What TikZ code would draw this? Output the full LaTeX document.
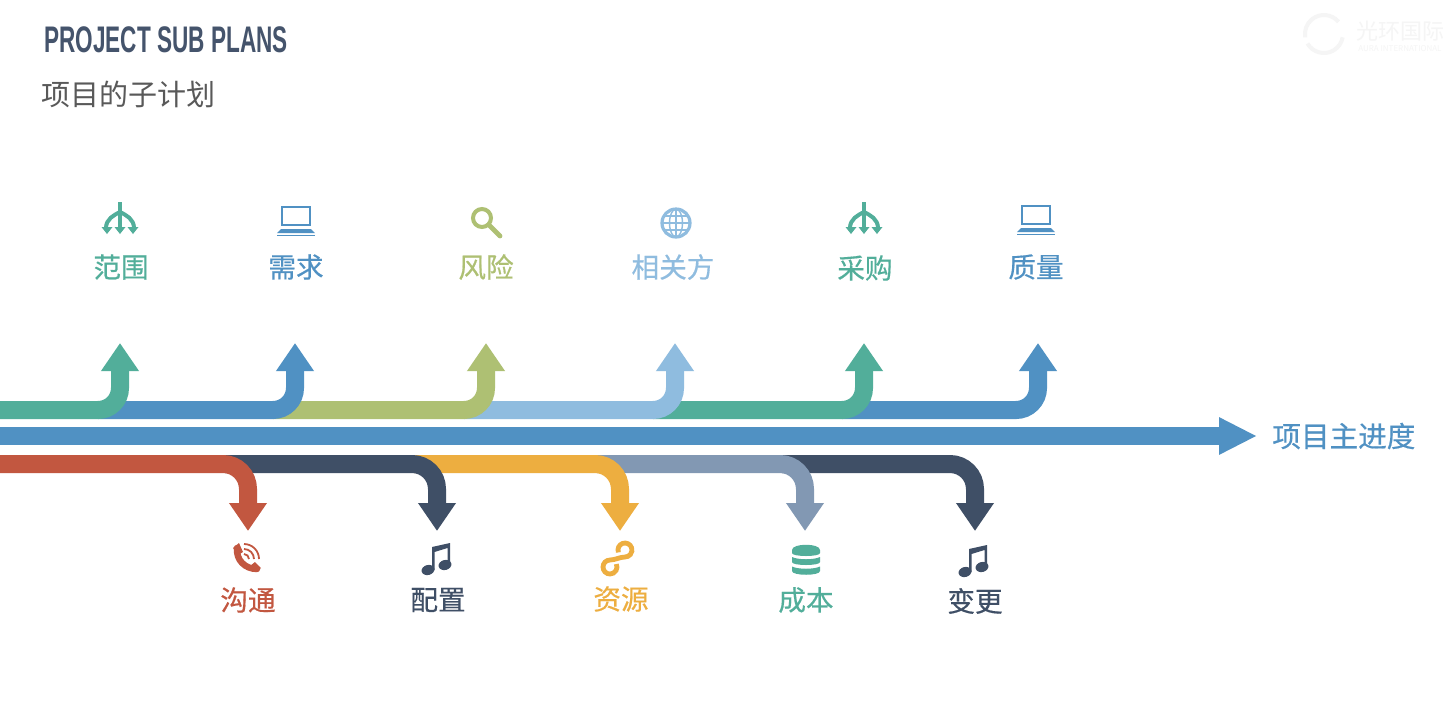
\documentclass[tikz,border=0pt]{standalone}
\usepackage{fontspec}
\usetikzlibrary{arrows.meta}
\setmainfont{Noto Sans CJK SC}
\newfontfamily\titlefont[FakeStretch=0.61]{Liberation Sans}
\newfontfamily\labelfont[FakeBold=0.5]{Noto Sans CJK SC}
\definecolor{cteal}{HTML}{52AE9A}
\definecolor{cblue}{HTML}{5091C3}
\definecolor{colive}{HTML}{AEC073}
\definecolor{csky}{HTML}{8FBCDF}
\definecolor{cred}{HTML}{C25740}
\definecolor{cnavy}{HTML}{3F4F66}
\definecolor{camber}{HTML}{EDAE40}
\definecolor{csteel}{HTML}{8298B3}
\definecolor{ctitle}{HTML}{45546C}
\definecolor{cmark}{HTML}{F5F5F5}
\tikzset{
    every node/.style={inner sep=0pt},
    band/.style={line width=9pt, rounded corners=11pt, -{Triangle[length=14pt, width=18pt]}},
    lowband/.style={band, rounded corners=12.5pt},
    mainband/.style={line width=9pt, -{Triangle[length=19pt, width=17.4pt]}},
    plabel/.style={font=\labelfont\fontsize{13.8pt}{14pt}\selectfont},
    forkicon/.pic={
        \draw[line width=2pt] (0,-18) -- (0,8);
        \draw[line width=2pt] (0,-8) .. controls (-6,-5) and (-14,-1) .. (-14,8);
        \draw[line width=2pt] (0,-8) .. controls (6,-5) and (14,-1) .. (14,8);
        \fill (-5.5,7) -- (0,14) -- (5.5,7) -- cycle;
        \fill (-18.5,7) -- (-13,14) -- (-7.5,7) -- cycle;
        \fill (7.5,7) -- (13,14) -- (18.5,7) -- cycle;
    },
    laptopicon/.pic={
        \draw[line width=1.4pt] (-14,-13) rectangle (14,5);
        \fill (-15,9) -- (15,9) -- (19,13) -- (-19,13) -- cycle;
        \fill (-19,14.5) rectangle (19,16);
    },
    lensicon/.pic={
        \draw[line width=2pt] (-2,-3) circle[radius=9];
        \draw[line width=2.4pt, line cap=round] (5,4) -- (16,15);
    },
    globeicon/.pic={
        \draw[line width=1.6pt] (0,0) circle[radius=14];
        \draw[line width=.7pt] (0,0) ellipse[x radius=6.5, y radius=14];
        \draw[line width=.7pt] (0,-14) -- (0,14) (-14,0) -- (14,0) (-12,-7) -- (12,-7) (-12,7) -- (12,7);
    },
    phoneicon/.pic={
        \draw[line width=3.2pt, line cap=round] (-10,-10) .. controls (-11,2) and (-2,11) .. (10,11);
        \fill (-14,-10) -- (-8,-15) -- (-4,-6) -- (-9,-3) -- cycle;
        \fill (3,8) -- (8,4) -- (14,10) -- (9,14) -- cycle;
        \draw[line width=.9pt] (-3,-4) arc[start angle=-90, end angle=0, radius=5];
        \draw[line width=.9pt] (-3,-9) arc[start angle=-90, end angle=0, radius=10];
        \draw[line width=.9pt] (-3,-14) arc[start angle=-90, end angle=0, radius=15];
    },
    noteicon/.pic={
        \fill[shift={(-9,12)}, rotate=15] (0,0) ellipse[x radius=6.5, y radius=5];
        \fill[shift={(8,7)}, rotate=15] (0,0) ellipse[x radius=6.5, y radius=5];
        \fill (-5,12) -- (-2.5,12) -- (-2.5,-6) -- (10.5,-10) -- (10.5,7) -- (13,7) -- (13,-15) -- (-5,-11) -- cycle;
    },
    linkicon/.pic={
        \draw[line width=2.4pt] (.4,-6.6) arc[start angle=160, end angle=450, radius=7]
            .. controls (2,-2) and (-3,1) .. (-8,1)
            arc[start angle=-90, end angle=-385, radius=7];
    },
    stackicon/.pic={
        \fill (-14,-10) .. controls (-14,-17) and (14,-17) .. (14,-10) -- (14,-7) .. controls (14,-3) and (-14,-3) .. (-14,-7) -- cycle;
        \fill (-14,-3) .. controls (-8,0) and (8,0) .. (14,-3) -- (14,2) .. controls (14,6) and (-14,6) .. (-14,2) -- cycle;
        \fill (-14,6.5) .. controls (-8,9.5) and (8,9.5) .. (14,6.5) -- (14,11) .. controls (14,16) and (-14,16) .. (-14,11) -- cycle;
    }
}
\begin{document}
\begin{tikzpicture}[x=0.5pt, y=-0.5pt]
    \clip (0,0) rectangle (1448,714);
    \fill[white] (0,0) rectangle (1448,714);

    \node[anchor=west, text=ctitle, font=\titlefont\bfseries\fontsize{18.5pt}{19pt}\selectfont] (title) at (44,40) {PROJECT SUB PLANS};
    \node[anchor=west, text=black!65, font=\fontsize{14.5pt}{15pt}\selectfont] (subtitle) at (41,94) {项目的子计划};

    % faint logo, top right
    \draw[cmark, line width=2pt] (1338.5,21.8) arc[start angle=-40, end angle=-190, radius=19];
    \draw[cmark, line width=2pt] (1307.5,43.5) arc[start angle=150, end angle=10, radius=19];
    \node[anchor=west, text=cmark, font=\fontsize{11pt}{12pt}\selectfont] (logotext) at (1356,31) {光环国际};
    \node[anchor=west, text=cmark, font=\fontsize{4pt}{5pt}\selectfont] (logosub) at (1358,49) {AURA INTERNATIONAL};

    % upper tips and starts
    \coordinate (tipA) at (120,343);
    \coordinate (tipB) at (295,343);
    \coordinate (tipC) at (486,343);
    \coordinate (tipD) at (675,343);
    \coordinate (tipE) at (864,343);
    \coordinate (tipF) at (1038,343);
    \coordinate (startA) at (-5,410);
    \coordinate (startB) at (98,410);
    \coordinate (startC) at (273,410);
    \coordinate (startD) at (464,410);
    \coordinate (startE) at (653,410);
    \coordinate (startF) at (842,410);

    \draw[band, cblue] (startF) -| (tipF);
    \draw[band, cteal] (startE) -| (tipE);
    \draw[band, csky] (startD) -| (tipD);
    \draw[band, colive] (startC) -| (tipC);
    \draw[band, cblue] (startB) -| (tipB);
    \draw[band, cteal] (startA) -| (tipA);

    % main schedule
    \node[anchor=west, plabel, text=cblue, font=\labelfont\fontsize{14.3pt}{15pt}\selectfont] (mainlabel) at (1272,436) {项目主进度};
    \coordinate (mainstart) at (-5,436);
    \coordinate (maintip) at (1257,436);
    \draw[mainband, cblue] (mainstart) -- (maintip);

    % lower tips and starts
    \coordinate (tipG) at (248,531);
    \coordinate (tipH) at (437,531);
    \coordinate (tipI) at (620,531);
    \coordinate (tipJ) at (805,531);
    \coordinate (tipK) at (975,531);
    \coordinate (startG) at (-5,464);
    \coordinate (startH) at (225,464);
    \coordinate (startI) at (414,464);
    \coordinate (startJ) at (597,464);
    \coordinate (startK) at (782,464);

    \draw[lowband, cnavy] (startK) -| (tipK);
    \draw[lowband, csteel] (startJ) -| (tipJ);
    \draw[lowband, camber] (startI) -| (tipI);
    \draw[lowband, cnavy] (startH) -| (tipH);
    \draw[lowband, cred] (startG) -| (tipG);

    % upper labels
    \node[plabel, text=cteal] (scope) at (121,267) {范围};
    \node[plabel, text=cblue] (reqs) at (296,267) {需求};
    \node[plabel, text=colive] (risk) at (486,267) {风险};
    \node[plabel, text=csky] (stake) at (673,267) {相关方};
    \node[plabel, text=cteal] (procure) at (865,268) {采购};
    \node[plabel, text=cblue] (quality) at (1036,267) {质量};

    % lower labels
    \node[plabel, text=cred] (comms) at (248,600) {沟通};
    \node[plabel, text=cnavy] (config) at (438,600) {配置};
    \node[plabel, text=camber] (resource) at (621,599) {资源};
    \node[plabel, text=cteal] (cost) at (806,600) {成本};
    \node[plabel, text=cnavy] (change) at (975,601) {变更};

    % icons
    \pic[color=cteal] (icScope) at (120,220) {forkicon};
    \pic[color=cblue] (icReqs) at (296,220) {laptopicon};
    \pic[color=colive] (icRisk) at (484,221) {lensicon};
    \pic[color=csky] (icStake) at (676,223) {globeicon};
    \pic[color=cteal] (icProcure) at (864,220) {forkicon};
    \pic[color=cblue] (icQuality) at (1036,219) {laptopicon};
    \pic[color=cred] (icComms) at (247,558) {phoneicon};
    \pic[color=cnavy] (icConfig) at (437,558) {noteicon};
    \pic[color=camber] (icResource) at (618,559) {linkicon};
    \pic[color=cteal] (icCost) at (806,560) {stackicon};
    \pic[color=cnavy] (icChange) at (974,560) {noteicon};
\end{tikzpicture}
\end{document}
